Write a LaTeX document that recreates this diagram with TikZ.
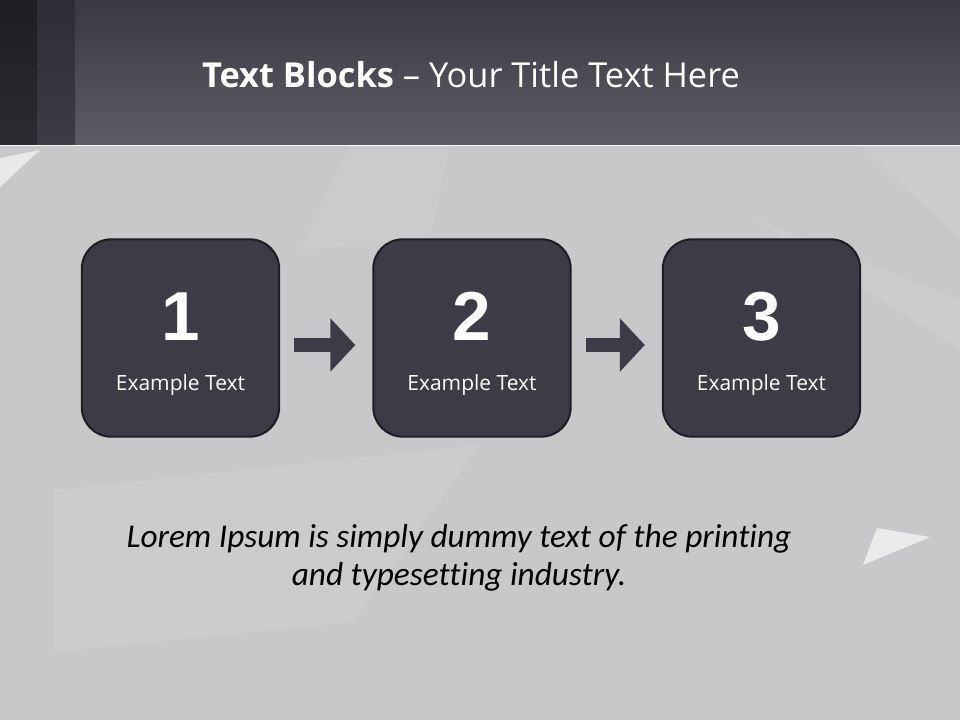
\documentclass[tikz,border=0pt]{standalone}
\usepackage{fontspec}
\setmainfont{Open Sans}
\newfontfamily\numfont{Liberation Sans}
\newfontfamily\lorem[Ligatures=NoCommon]{Carlito}
\usetikzlibrary{positioning, arrows.meta, calc}

\definecolor{boxfill}{HTML}{3D3B45}
\definecolor{boxline}{HTML}{1E1D22}
\definecolor{bgback}{HTML}{C8C8CA}
\definecolor{facet}{HTML}{D6D6D8}
\definecolor{headtop}{HTML}{3A3942}
\definecolor{headbot}{HTML}{5E5D66}

\begin{document}
\begin{tikzpicture}[x=0.75pt, y=-0.75pt,
	block/.style={draw=boxline, line width=1.5pt, fill=boxfill, rounded corners=22pt, minimum width=148pt, minimum height=148pt, inner sep=0pt},
	num/.style={text=white, font=\numfont\bfseries\fontsize{52}{52}\selectfont, anchor=base},
	caption/.style={text=white, font=\fontsize{15.75}{18}\selectfont, anchor=base},
	flow/.style={line width=10.5pt, draw=boxfill, -{Triangle[length=18.75pt, width=39pt]}, shorten <=10.5pt, shorten >=12.75pt}]
	% Background and facets:
	\useasboundingbox (0,0) rectangle (960,720);
	\fill[bgback] (0,0) rectangle (960,720);
	\fill[facet, opacity=0.35] (53,490) -- (480,445) -- (353,622) -- (53,652) -- cycle;
	\fill[facet, opacity=0.25] (350,145) -- (450,145) -- (430,240) -- (300,250) -- cycle;
	\fill[facet, opacity=0.3] (860,145) -- (960,145) -- (960,240) -- cycle;
	\fill[facet, opacity=0.3] (753,218) -- (960,300) -- (960,350) -- cycle;
	\fill[white, opacity=0.6] (0,158) -- (40,150) -- (0,187) -- cycle;
	\fill[white, opacity=0.65] (877,528) -- (930,537) -- (863,565) -- cycle;
	% Header band:
	\shade[top color=headtop, bottom color=headbot] (0,0) rectangle (960,145);
	\shade[top color={rgb,255:red,30;green,29;blue,34}, bottom color={rgb,255:red,44;green,43;blue,50}] (0,0) rectangle (37,145);
	\shade[top color={rgb,255:red,46;green,45;blue,53}, bottom color={rgb,255:red,61;green,60;blue,68}] (37,0) rectangle (75,145);
	\draw[white!85!bgback, line width=0.75pt] (0,146) -- (960,146);
	\node[anchor=base, text=white, font=\fontsize{25.8}{30}\selectfont] (title) at (471,88) {\textbf{Text Blocks} – Your Title Text Here};
	% Blocks:
	\foreach \i/\x in {1/180.5, 2/472, 3/761.5} {
		\node[block] (b\i) at (\x,338) {};
		\node[num] (n\i) at ([yshift=-1.5pt]b\i.center) {\i};
		\node[caption] (c\i) at ([yshift=-39pt]b\i.center) {Example Text};
	}
	\draw[flow] ([yshift=-5.25pt]b1.east) -- ([yshift=-5.25pt]b2.west);
	\draw[flow] ([yshift=-5.25pt]b2.east) -- ([yshift=-5.25pt]b3.west);
	\node[font=\lorem\itshape\fontsize{25}{28.5}\selectfont, align=center] (note) at (459,558) {Lorem Ipsum is simply dummy text of the printing\\and typesetting industry.};
\end{tikzpicture}
\end{document}
